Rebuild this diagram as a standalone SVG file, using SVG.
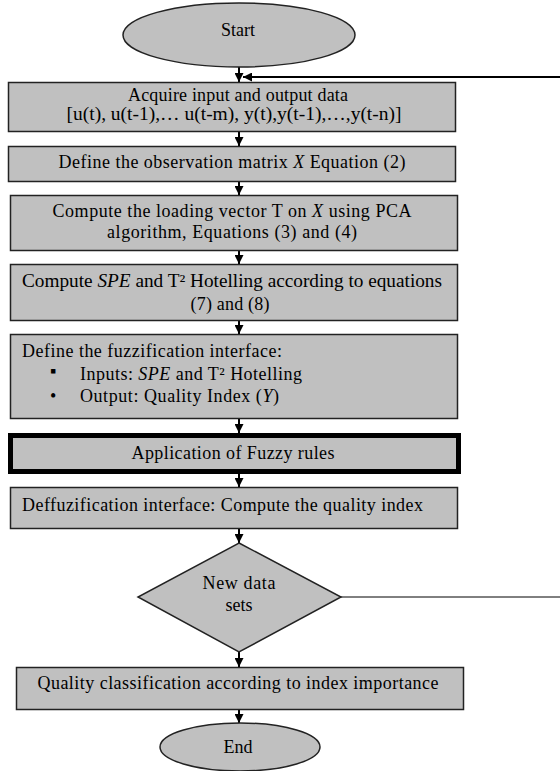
<svg xmlns="http://www.w3.org/2000/svg" width="560" height="771" viewBox="0 0 560 771">
<style>
.n{fill:#c0c0c0;stroke:#222;stroke-width:1.5}
.t{font-family:"Liberation Serif","Times New Roman",serif;font-size:18px;fill:#000}
.c{text-anchor:middle}
.i{font-style:italic}
.e{stroke:#000;stroke-width:2;fill:none}
</style>
<defs>
<marker id="ah" viewBox="0 0 10 10" refX="10" refY="5" markerWidth="4.5" markerHeight="4.5" orient="auto" markerUnits="strokeWidth">
<path d="M0,0 L10,5 L0,10 Z" fill="#000"/>
</marker>
</defs>
<rect width="560" height="771" fill="#fff"/>
<g id="connectors">
<line class="e" x1="239" y1="67" x2="239" y2="82" marker-end="url(#ah)"/>
<line class="e" x1="560" y1="77" x2="243" y2="77" marker-end="url(#ah)"/>
<line class="e" x1="239" y1="132" x2="239" y2="146" marker-end="url(#ah)"/>
<line class="e" x1="239" y1="181" x2="239" y2="195" marker-end="url(#ah)"/>
<line class="e" x1="239" y1="250" x2="239" y2="264" marker-end="url(#ah)"/>
<line class="e" x1="239" y1="321" x2="239" y2="334" marker-end="url(#ah)"/>
<line class="e" x1="239" y1="418" x2="239" y2="433" marker-end="url(#ah)"/>
<line class="e" x1="239" y1="474" x2="239" y2="487" marker-end="url(#ah)"/>
<line class="e" x1="239" y1="528" x2="239" y2="543" marker-end="url(#ah)"/>
<line class="e" x1="239" y1="652" x2="239" y2="667" marker-end="url(#ah)"/>
<line class="e" x1="239" y1="709" x2="239" y2="723" marker-end="url(#ah)"/>
<line x1="341" y1="597" x2="560" y2="597" stroke="#000" stroke-width="1"/>
</g>
<g id="start">
<ellipse class="n" cx="239" cy="35" rx="116" ry="32"/>
<text class="t c" x="238" y="36">Start</text>
</g>
<g id="acquire">
<rect class="n" x="8.5" y="82.5" width="447" height="49"/>
<text class="t c" x="238" y="101" textLength="220" lengthAdjust="spacing">Acquire input and output data</text>
<text class="t c" x="234" y="120" textLength="335" lengthAdjust="spacingAndGlyphs">[u(t), u(t-1),… u(t-m), y(t),y(t-1),…,y(t-n)]</text>
</g>
<g id="define-x">
<rect class="n" x="8.5" y="146.5" width="447" height="35"/>
<text class="t c" x="232" y="168" textLength="347" lengthAdjust="spacing">Define the observation matrix <tspan class="i">X</tspan> Equation (2)</text>
</g>
<g id="pca">
<rect class="n" x="10.5" y="195.5" width="447" height="55"/>
<text class="t c" x="232" y="217" textLength="359" lengthAdjust="spacing">Compute the loading vector T on <tspan class="i">X</tspan> using PCA</text>
<text class="t c" x="232" y="238" textLength="250" lengthAdjust="spacing">algorithm, Equations (3) and (4)</text>
</g>
<g id="spe">
<rect class="n" x="10.5" y="264.5" width="447" height="56"/>
<text class="t c" x="232" y="287" textLength="420" lengthAdjust="spacingAndGlyphs">Compute <tspan class="i">SPE</tspan> and T² Hotelling according to equations</text>
<text class="t c" x="230" y="310" textLength="79" lengthAdjust="spacing">(7) and (8)</text>
</g>
<g id="fuzzification">
<rect class="n" x="10.5" y="334.5" width="447" height="84"/>
<text class="t" x="22" y="357" textLength="260" lengthAdjust="spacing">Define the fuzzification interface:</text>
<text class="t" x="50" y="377" font-size="14">▪</text>
<text class="t" x="80" y="380" textLength="222" lengthAdjust="spacing">Inputs: <tspan class="i">SPE</tspan> and T² Hotelling</text>
<text class="t" x="50" y="402">•</text>
<text class="t" x="80" y="402" textLength="199" lengthAdjust="spacing">Output: Quality Index (<tspan class="i">Y</tspan>)</text>
</g>
<g id="rules">
<rect x="10.5" y="435.5" width="448" height="36" fill="#c0c0c0" stroke="#000" stroke-width="5"/>
<text class="t c" x="233" y="459" textLength="203" lengthAdjust="spacing">Application of Fuzzy rules</text>
</g>
<g id="defuzzification">
<rect class="n" x="10.5" y="487.5" width="447" height="41"/>
<text class="t" x="22" y="511" textLength="401" lengthAdjust="spacing">Deffuzification interface: Compute the quality index</text>
</g>
<g id="decision">
<polygon class="n" points="239,543 341,597 239,652 138,597"/>
<text class="t c" x="239" y="589" textLength="73" lengthAdjust="spacing">New data</text>
<text class="t c" x="239" y="611">sets</text>
</g>
<g id="classification">
<rect class="n" x="16.5" y="667.5" width="447" height="42"/>
<text class="t c" x="238" y="689" textLength="401" lengthAdjust="spacing">Quality classification according to index importance</text>
</g>
<g id="end">
<ellipse class="n" cx="240" cy="747" rx="80" ry="24"/>
<text class="t c" x="238" y="753">End</text>
</g>
</svg>
